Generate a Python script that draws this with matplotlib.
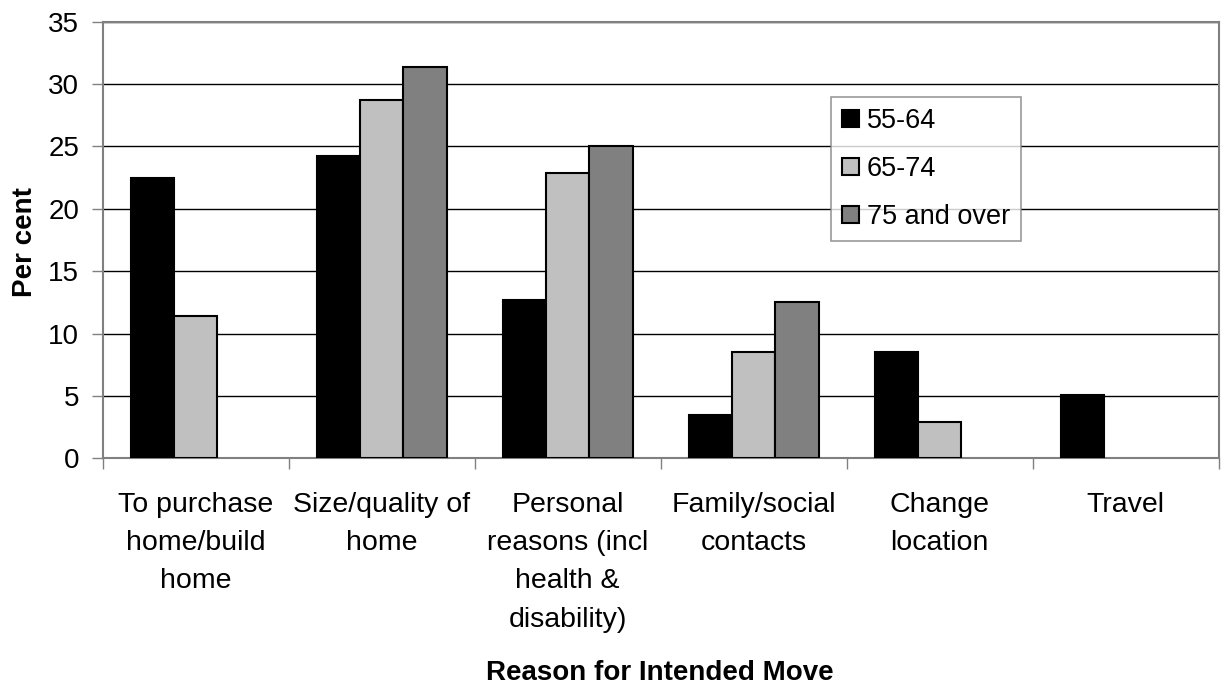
import numpy as np
import matplotlib
matplotlib.use("Agg")
import matplotlib.pyplot as plt

plt.rcParams['font.family'] = ['Liberation Sans', 'DejaVu Sans']

categories = ["To purchase\nhome/build\nhome", "Size/quality of\nhome",
              "Personal\nreasons (incl\nhealth &\ndisability)",
              "Family/social\ncontacts", "Change\nlocation", "Travel"]
# None = no bar shown for that group
age_55_64 = [22.5, 24.2, 12.7, 3.5, 8.5, 5.1]
age_65_74 = [11.4, 28.7, 22.9, 8.5, 2.9, None]
age_75_over = [None, 31.4, 25.0, 12.5, None, None]
series_names = ["55-64", "65-74", "75 and over"]
colours = ["#000000", "#C0C0C0", "#808080"]

W, H = 1227, 684
fig = plt.figure(figsize=(W / 100, H / 100), dpi=100)
ax = fig.add_axes([102.7 / W, 1 - 458.3 / H, (1218.7 - 102.7) / W, (458.3 - 21.7) / H])

x = np.arange(len(categories))
bw = 0.233
for i, (vals, name, c) in enumerate(zip([age_55_64, age_65_74, age_75_over], series_names, colours)):
    v = np.array([np.nan if a is None else a for a in vals], dtype=float)
    ax.bar(x + (i - 1) * bw, v, width=bw, color=c, edgecolor="black",
           linewidth=1.5, label=name, zorder=3)

ax.set_xlim(-0.5, len(categories) - 0.5)
ax.set_ylim(0, 35)
ax.set_yticks(range(0, 36, 5))
ax.yaxis.grid(True, color="black", linewidth=1, zorder=0)
ax.set_axisbelow(True)

ax.set_xticks(np.arange(-0.5, len(categories), 1))
ax.set_xticklabels([])
ax.set_xticks(x, minor=True)
ax.set_xticklabels(categories, minor=True, fontsize=20.5, linespacing=1.62, va="top")
ax.tick_params(axis="x", which="minor", length=0, pad=24)
ax.tick_params(axis="x", which="major", length=8, width=1, color="#808080")
ax.tick_params(axis="y", length=8, width=1, color="#808080", labelsize=20, pad=9)

for s in ax.spines.values():
    s.set_color("#808080")
    s.set_linewidth(1.5)

fig.text(660 / W, 1 - 673 / H, "Reason for Intended Move", fontsize=20,
         fontweight="bold", ha="center", va="center")
fig.text(25 / W, 1 - 242 / H, "Per cent", fontsize=20, fontweight="bold",
         rotation=90, ha="center", va="center")

leg = fig.legend(loc="upper left", bbox_to_anchor=(831 / W, 1 - 97 / H),
                 fontsize=19.5, frameon=True, fancybox=False, borderaxespad=0,
                 handlelength=0.6, handleheight=0.6, handletextpad=0.3,
                 labelspacing=0.8, borderpad=0.42)
leg.get_frame().set_edgecolor("#808080")
leg.get_frame().set_linewidth(1.2)

fig.savefig("out.png", dpi=100)
